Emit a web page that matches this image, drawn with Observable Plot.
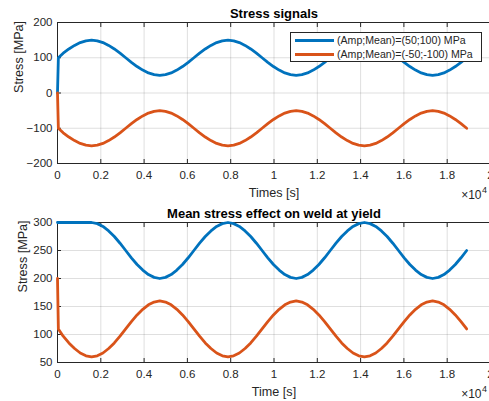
<!DOCTYPE html>
<html><head><meta charset="utf-8">
<script src="https://cdn.jsdelivr.net/npm/d3@7"></script>
<script src="https://cdn.jsdelivr.net/npm/@observablehq/plot@0.6"></script>
<style>
html,body{margin:0;padding:0;background:#fff;overflow:hidden}
#wrap{position:relative;width:489px;height:401px;font-family:"Liberation Sans",Arial,Helvetica,sans-serif}
#wrap svg{display:block}
.legend{position:absolute;left:290px;top:32px;width:190px;height:28px;border:1px solid #262626;background:#fff;font-size:10.6px;color:#262626}
.row{position:absolute;left:4px;height:14px;display:flex;align-items:center;white-space:nowrap}
.sw{width:39px;height:3px;margin-right:3px}
</style></head><body><div id="wrap"></div>
<script>
// time in seconds (axis shows ×10^4)
const timeS = [0,40,263,525,788,1050,1313,1575,1838,2100,2363,2625,2888,3150,3413,3675,3938,4200,4463,4725,4988,5250,5513,5775,6038,6300,6563,6825,7088,7350,7613,7875,8138,8400,8663,8925,9188,9450,9713,9975,10238,10500,10763,11025,11288,11550,11813,12075,12338,12600,12863,13125,13388,13650,13913,14175,14438,14700,14963,15225,15488,15750,16013,16275,16538,16800,17063,17325,17588,17850,18113,18375,18638,18900];

// top panel: stress signals [MPa]
const signalPos = [0,100,
113,125,135,143,148,150,148,143,135,125,113,100,87,75,65,57,52,50,52,57,65,75,87,100,
113,125,135,143,148,150,148,143,135,125,113,100,87,75,65,57,52,50,52,57,65,75,87,100,
113,125,135,143,148,150,148,143,135,125,113,100,87,75,65,57,52,50,52,57,65,75,87,100];
const signalNeg = [0,-100,
-113,-125,-135,-143,-148,-150,-148,-143,-135,-125,-113,-100,-87,-75,-65,-57,-52,-50,-52,-57,-65,-75,-87,-100,
-113,-125,-135,-143,-148,-150,-148,-143,-135,-125,-113,-100,-87,-75,-65,-57,-52,-50,-52,-57,-65,-75,-87,-100,
-113,-125,-135,-143,-148,-150,-148,-143,-135,-125,-113,-100,-87,-75,-65,-57,-52,-50,-52,-57,-65,-75,-87,-100];

// bottom panel: mean stress effect on weld at yield [MPa]
const yieldPos = [300,300,
300,300,300,300,300,300,298,293,285,275,263,250,237,225,215,207,202,200,202,207,215,225,237,250,
263,275,285,293,298,300,298,293,285,275,263,250,237,225,215,207,202,200,202,207,215,225,237,250,
263,275,285,293,298,300,298,293,285,275,263,250,237,225,215,207,202,200,202,207,215,225,237,250];
const yieldNeg = [200,110,
97,85,75,67,62,60,62,67,75,85,97,110,123,135,145,153,158,160,158,153,145,135,123,110,
97,85,75,67,62,60,62,67,75,85,97,110,123,135,145,153,158,160,158,153,145,135,123,110,
97,85,75,67,62,60,62,67,75,85,97,110,123,135,145,153,158,160,158,153,145,135,123,110];

const seriesNames = ["(Amp;Mean)=(50;100) MPa", "(Amp;Mean)=(-50;-100) MPa"];
const colors = ["#0072BD", "#D95319"];
const xTicks = [0,2000,4000,6000,8000,10000,12000,14000,16000,18000,20000];
const xTickLabels = ["0","0.2","0.4","0.6","0.8","1","1.2","1.4","1.6","1.8","2"];
const yTicksTop = [-200,-100,0,100,200];
const yTicksBottom = [50,100,150,200,250,300];

const rows = arr => timeS.map((t, i) => ({t, v: arr[i]}));
const ink = "#262626";

function panel({height, marginTop, marginBottom, yDomain, yTicks, title, xLabel, yLabelDx, pos, neg}) {
  return Plot.plot({
    width: 489, height, marginLeft: 57, marginRight: -1, marginTop, marginBottom,
    x: {domain: [0, 20000], label: null},
    y: {domain: yDomain, label: null},
    style: {fontFamily: '"Liberation Sans",Arial,Helvetica,sans-serif', fontSize: "11.5px", color: ink, background: "#fff"},
    marks: [
      Plot.gridX(xTicks, {stroke: ink, strokeOpacity: 0.15}),
      Plot.gridY(yTicks, {stroke: ink, strokeOpacity: 0.15}),
      Plot.frame({stroke: ink}),
      Plot.axisX(xTicks, {anchor: "bottom", tickSize: -4, tickFormat: () => "", stroke: ink}),
      Plot.axisX(xTicks, {anchor: "top", tickSize: -4, tickFormat: () => "", stroke: ink}),
      Plot.axisY(yTicks, {anchor: "left", tickSize: -4, tickFormat: () => "", stroke: ink}),
      Plot.axisX(xTicks, {anchor: "bottom", tickSize: 0, tickPadding: 7, tickFormat: d => xTickLabels[xTicks.indexOf(d)], fill: ink}),
      Plot.axisY(yTicks, {anchor: "left", tickSize: 0, tickPadding: 5, fill: ink}),
      Plot.line(rows(pos), {x: "t", y: "v", stroke: colors[0], strokeWidth: 2.8}),
      Plot.line(rows(neg), {x: "t", y: "v", stroke: colors[1], strokeWidth: 2.8}),
      Plot.text([title], {frameAnchor: "top", lineAnchor: "middle", dy: -9, fontWeight: "bold", fontSize: 13, fill: "#000"}),
      Plot.text([xLabel], {frameAnchor: "bottom", lineAnchor: "middle", dy: 29.5, fontSize: 12.6, fill: ink}),
      Plot.text(["Stress [MPa]"], {frameAnchor: "left", lineAnchor: "middle", dx: yLabelDx, rotate: -90, fontSize: 12.6, fill: ink}),
      Plot.text(["×10"], {frameAnchor: "bottom-right", lineAnchor: "middle", textAnchor: "end", dx: -9, dy: 31.5, fontSize: 12, fill: ink}),
      Plot.text(["4"], {frameAnchor: "bottom-right", lineAnchor: "middle", textAnchor: "start", dx: -8.5, dy: 27, fontSize: 9, fill: ink})
    ]
  });
}

const wrap = document.getElementById("wrap");
wrap.appendChild(panel({height: 200, marginTop: 22, marginBottom: 37, yDomain: [-200, 200], yTicks: yTicksTop,
  title: "Stress signals", xLabel: "Times [s]", yLabelDx: -39, pos: signalPos, neg: signalNeg}));
wrap.appendChild(panel({height: 201, marginTop: 22, marginBottom: 39, yDomain: [50, 300], yTicks: yTicksBottom,
  title: "Mean stress effect on weld at yield", xLabel: "Time [s]", yLabelDx: -35, pos: yieldPos, neg: yieldNeg}));

const lg = document.createElement("div");
lg.className = "legend";
seriesNames.forEach((name, i) => {
  const r = document.createElement("div");
  r.className = "row";
  r.style.top = (i === 0 ? 0 : 14) + "px";
  const sw = document.createElement("span");
  sw.className = "sw";
  sw.style.background = colors[i];
  const tx = document.createElement("span");
  tx.textContent = name;
  r.appendChild(sw); r.appendChild(tx);
  lg.appendChild(r);
});
wrap.appendChild(lg);
</script></body></html>
